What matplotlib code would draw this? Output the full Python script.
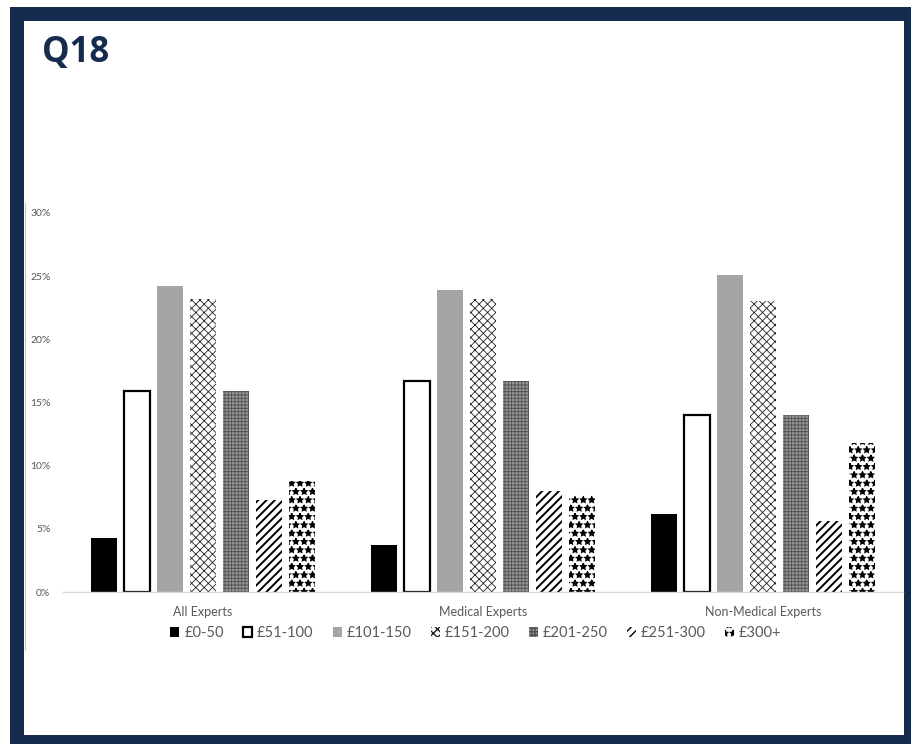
import matplotlib
matplotlib.use('Agg')
import matplotlib.pyplot as plt
from matplotlib.patches import Rectangle
from matplotlib.lines import Line2D
import numpy as np

NAVY = '#162c4e'
TEXT_GREY = '#595959'
AXIS_GREY = '#d9d9d9'

# Data (percent)
categories = ['All Experts', 'Medical Experts', 'Non-Medical Experts']
labels = ['£0-50', '£51-100', '£101-150', '£151-200', '£201-250', '£251-300', '£300+']
fee_0_50 = [4.3, 3.7, 6.2]
fee_51_100 = [15.9, 16.7, 14.0]
fee_101_150 = [24.2, 23.9, 25.1]
fee_151_200 = [23.2, 23.2, 23.0]
fee_201_250 = [15.9, 16.7, 14.0]
fee_251_300 = [7.3, 8.0, 5.6]
fee_300_plus = [8.8, 7.7, 11.8]
series = [fee_0_50, fee_51_100, fee_101_150, fee_151_200,
          fee_201_250, fee_251_300, fee_300_plus]

# fill styles: face, edge(hatch colour), hatch, outline width, hatch width
styles = [
    dict(face='black', edge='black', hatch=None, lw=0, hlw=1.0),
    dict(face='white', edge='black', hatch=None, lw=1.6, hlw=1.0),
    dict(face='#a5a5a5', edge='#a5a5a5', hatch=None, lw=0, hlw=1.0),
    dict(face='white', edge='#222222', hatch='xxxx', lw=0, hlw=0.6),
    dict(face='#969696', edge='#505050', hatch='+++++', lw=0, hlw=0.6),
    dict(face='white', edge='black', hatch='////', lw=0, hlw=1.4),
    dict(face='white', edge='black', hatch='**', lw=0, hlw=1.0),
]

plt.rcParams['font.family'] = ['Lato', 'DejaVu Sans']

fig = plt.figure(figsize=(9.12, 7.44), dpi=100)

# navy frame round the slide
fig.patches.append(Rectangle((10 / 912, 0), 1, 737 / 744, transform=fig.transFigure,
                             facecolor=NAVY, edgecolor='none', zorder=-3))
fig.patches.append(Rectangle((24 / 912, 9 / 744), 880 / 912, 714 / 744,
                             transform=fig.transFigure, facecolor='white',
                             edgecolor='none', zorder=-2))
# faint edge of the pasted chart
fig.lines.append(Line2D([25.5 / 912, 25.5 / 912], [94 / 744, 541 / 744],
                        transform=fig.transFigure, color='#c8c8c8', lw=0.8,
                        zorder=-1))

fig.text(42 / 912, 1 - 53 / 744, 'Q18', family='Open Sans', fontweight='bold',
         fontsize=25, color=NAVY, va='center', ha='left')

ax = fig.add_axes([63 / 912, 152 / 744, 840 / 912, 379 / 744])
ax.set_facecolor('none')

x = np.arange(len(categories))
pitch = 0.118
width = 0.093
for i, (vals, lab, st) in enumerate(zip(series, labels, styles)):
    with plt.rc_context({'hatch.linewidth': st['hlw']}):
        bars = ax.bar(x + (i - 3) * pitch, np.array(vals) / 100, width,
                      color=st['face'], edgecolor=st['edge'], hatch=st['hatch'],
                      linewidth=st['lw'], label=lab, zorder=2)
    for b in bars:
        if hasattr(b, 'set_hatch_linewidth'):
            b.set_hatch_linewidth(st['hlw'])

ax.set_xlim(-0.5, 2.5)
ax.set_ylim(0, 0.30)
ax.set_yticks(np.arange(0, 0.31, 0.05))
ax.set_yticklabels([f'{int(round(v * 100))}%' for v in np.arange(0, 0.31, 0.05)])
ax.set_xticks(x)
ax.set_xticklabels(categories)
ax.tick_params(axis='y', length=0, pad=9, labelsize=7.5, labelcolor=TEXT_GREY)
ax.tick_params(axis='x', length=0, pad=10, labelsize=9, labelcolor=TEXT_GREY)
for side in ['top', 'right', 'left']:
    ax.spines[side].set_visible(False)
ax.spines['bottom'].set_color(AXIS_GREY)
ax.spines['bottom'].set_linewidth(1.0)

leg = fig.legend(loc='center', bbox_to_anchor=(476 / 912, 1 - 633 / 744), ncol=7,
                 frameon=False, fontsize=10.5, handlelength=0.62, handleheight=0.62,
                 handletextpad=0.35, columnspacing=1.3, labelcolor=TEXT_GREY)

fig.savefig('out.png', dpi=100)
